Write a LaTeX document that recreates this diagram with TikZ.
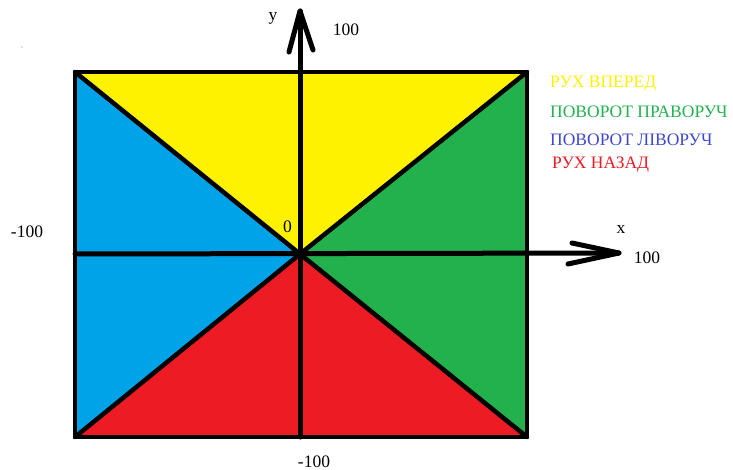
\documentclass[tikz,border=0pt]{standalone}
\usepackage{fontspec}
\setmainfont{Liberation Serif}
\definecolor{pyellow}{HTML}{FFF200}
\definecolor{pgreen}{HTML}{22B14C}
\definecolor{pblue}{HTML}{00A2E8}
\definecolor{pred}{HTML}{ED1C24}
\definecolor{tblue}{HTML}{3F48CC}
\tikzset{
  edge/.style={line width=4.5pt, line cap=round, line join=round},
  arr/.style={line width=5pt, line cap=round, line join=round},
  lbl/.style={inner sep=0pt, anchor=base, font=\fontsize{17.5}{20}\selectfont},
  leg/.style={inner sep=0pt, anchor=base west, font=\fontsize{17.5}{20}\selectfont},
}
\begin{document}
\begin{tikzpicture}[x=1pt,y=-1pt]
\useasboundingbox (0,0) rectangle (733,470);
\coordinate (TL) at (75,72);
\coordinate (TR) at (527,72);
\coordinate (BL) at (75,437);
\coordinate (BR) at (527,437);
\coordinate (C) at (300,254);
\coordinate (L) at (75,254);
\coordinate (B) at (300,437);
\coordinate (ytip) at (300,11);
\coordinate (yb1) at (289,52);
\coordinate (yb2) at (313,50);
\coordinate (xtip) at (619,253);
\coordinate (xb1) at (572,243);
\coordinate (xb2) at (568,264);
% fills
\fill[pyellow] (TL) -- (TR) -- (C) -- cycle;
\fill[pgreen] (TR) -- (BR) -- (C) -- cycle;
\fill[pred] (BR) -- (BL) -- (C) -- cycle;
\fill[pblue] (BL) -- (TL) -- (C) -- cycle;
% lines
\draw[edge] (TL) -- (C) -- (BR);
\draw[edge] (TR) -- (C) -- (BL);
\draw[edge] (TL) rectangle (BR);
\draw[arr] (B) -- (ytip);
\draw[arr] (yb1) -- (ytip) -- (yb2);
\draw[arr] (L) -- (xtip);
\draw[arr] (xb1) -- (xtip) -- (xb2);
% labels
\node[lbl] (ylab) at (273,21) {y};
\node[lbl] (ymax) at (346,36) {100};
\node[lbl] (xlab) at (621,234) {x};
\node[lbl] (xmax) at (647,263) {100};
\node[lbl] (xmin) at (27,238) {-100};
\node[lbl] (ymin) at (314,467) {-100};
\node[lbl] (zero) at (287.5,233) {0};
\node[leg, text=pyellow] (l1) at (550,88) {РУХ ВПЕРЕД};
\node[leg, text=pgreen] (l2) at (550,118) {ПОВОРОТ ПРАВОРУЧ};
\node[leg, text=tblue] (l3) at (550,146) {ПОВОРОТ ЛІВОРУЧ};
\node[leg, text=pred] (l4) at (552,169) {РУХ НАЗАД};
\fill[gray] (22,47) circle (0.7);
\end{tikzpicture}
\end{document}
